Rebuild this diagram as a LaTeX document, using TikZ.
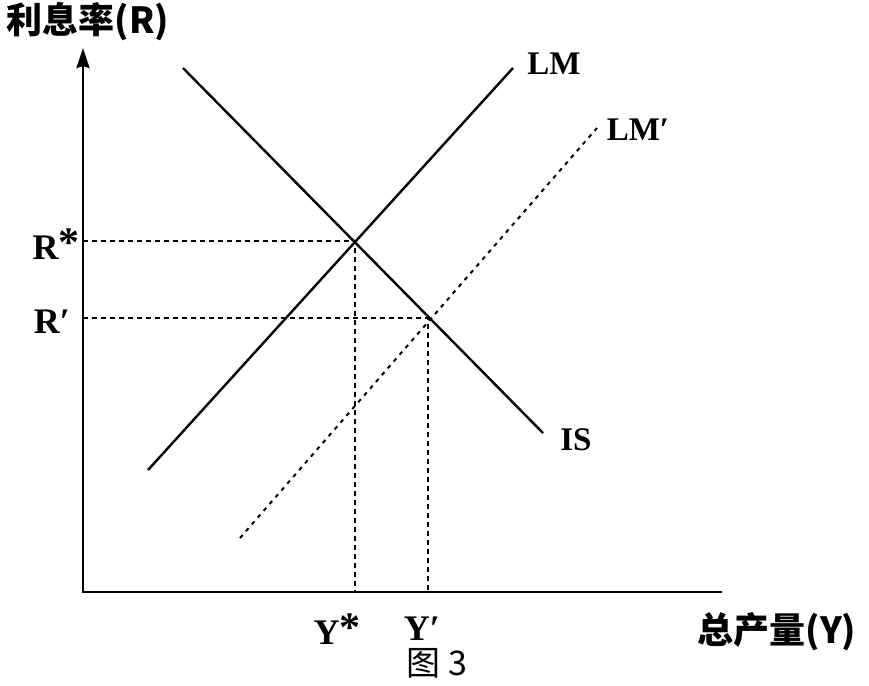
\documentclass[tikz,border=0pt]{standalone}
\usepackage{fontspec}
\setmainfont{Liberation Serif}
\newfontfamily\cjk{Noto Sans CJK SC}
\usetikzlibrary{arrows.meta}
\newcommand{\rstar}{\raisebox{0.15ex}{\fontsize{21}{21}\selectfont *}}
\begin{document}
\begin{tikzpicture}[
    x=0.5pt, y=-0.5pt,
    axis/.style={line width=1.3pt},
    curve/.style={line width=1.2pt},
    shifted/.style={line width=1pt, dash pattern=on 2pt off 2.5pt},
    guide/.style={line width=0.9pt, dash pattern=on 2.5pt off 2pt},
    lbl/.style={font=\bfseries\fontsize{16.5}{20}\selectfont, inner sep=0pt},
    val/.style={font=\bfseries\fontsize{18}{20}\selectfont, inner sep=0pt},
    zh/.style={font=\cjk\bfseries\fontsize{18}{22}\selectfont, inner sep=0pt},
  ]
  \useasboundingbox (0,0) rectangle (869,686);

  % Axes
  \coordinate (O) at (83,592);
  \coordinate (ytop) at (83,48);
  \coordinate (xend) at (722,592);
  \draw[axis,-{Stealth[length=10pt,width=6.5pt,inset=1pt]}] (xend) -- (O) -- (ytop);
  \node[zh] (ylab) at (88,22) {利息率(R)};
  \node[zh] (xlab) at (777,632) {总产量(Y)};

  % Curves
  \coordinate (lm0) at (148,470);
  \coordinate (lm1) at (513,68);
  \coordinate (is0) at (183,68);
  \coordinate (is1) at (543,433);
  \coordinate (lmb0) at (240,538);
  \coordinate (lmb1) at (597,128);
  \draw[curve] (lm0) -- (lm1);
  \draw[curve] (is0) -- (is1);
  \draw[shifted] (lmb0) -- (lmb1);
  \node[lbl] (LM) at (554,64) {LM};
  \node[lbl] (LMb) at (638,130) {LM′};
  \node[lbl] (IS) at (576,440) {IS};

  % Equilibria
  \coordinate (E) at (355,241);
  \coordinate (Eb) at (428,318);
  \draw[guide] (O |- E) -- (E) -- (E |- O);
  \draw[guide] (O |- Eb) -- (Eb) -- (Eb |- O);
  \node[val] (Rs) at (56,244) {R\rstar};
  \node[val] (Rb) at (52,322) {R′};
  \node[val] (Ys) at (337,629) {Y\rstar};
  \node[val] (Yb) at (422,629) {Y′};

  \node[font=\cjk\fontsize{17}{20}\selectfont, inner sep=0pt] (cap) at (437,663) {图 3};
\end{tikzpicture}
\end{document}
